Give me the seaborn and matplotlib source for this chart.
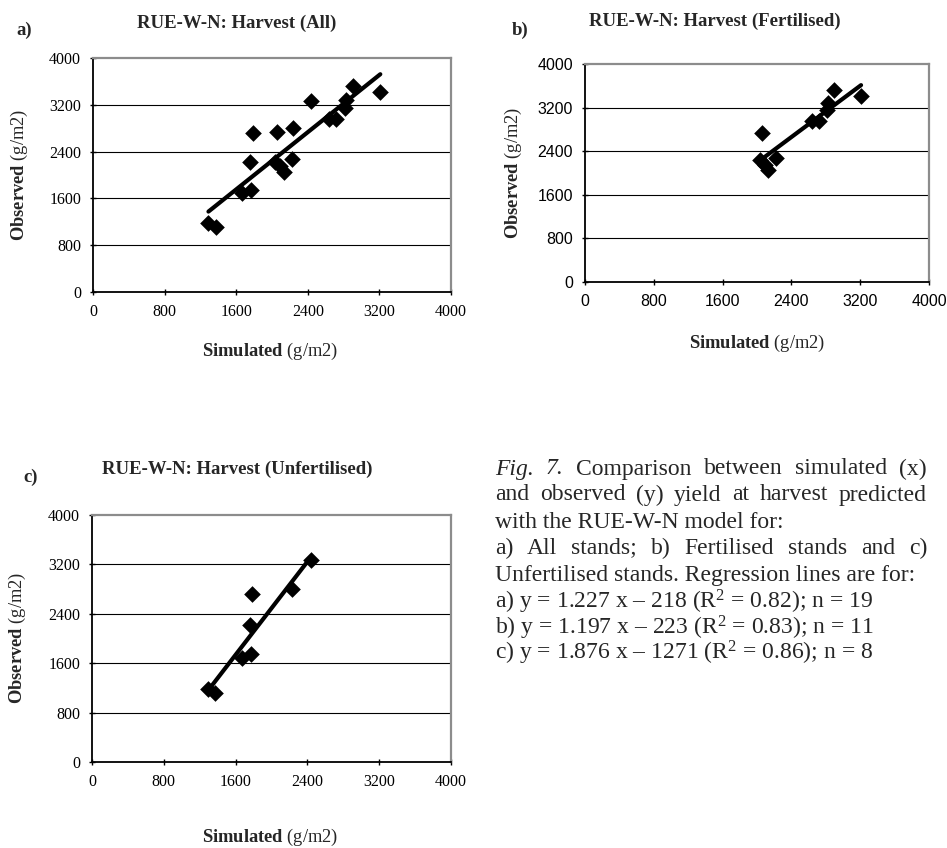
import numpy as np
import pandas as pd
import matplotlib
matplotlib.use('Agg')
import matplotlib.pyplot as plt
import seaborn as sns

# fertilised stands (n = 11)
fert_sim = [2054, 2030, 2090, 2132, 2225, 2640, 2720, 2815, 2825, 2900, 3210]
fert_obs = [2730, 2230, 2150, 2050, 2270, 2950, 2955, 3150, 3290, 3525, 3415]
# unfertilised stands (n = 8)
unf_sim = [1290, 1370, 1670, 1770, 1755, 1785, 2230, 2440]
unf_obs = [1175, 1110, 1685, 1750, 2220, 2725, 2800, 3270]

ticks = [0, 800, 1600, 2400, 3200, 4000]

df_f = pd.DataFrame({'sim': fert_sim, 'obs': fert_obs})
df_u = pd.DataFrame({'sim': unf_sim, 'obs': unf_obs})
df_all = pd.concat([df_f, df_u], ignore_index=True)

sns.set_style('white')
plt.rcParams['font.family'] = ['Liberation Serif', 'DejaVu Serif']
plt.rcParams['mathtext.fontset'] = 'custom'
plt.rcParams['mathtext.rm'] = 'Liberation Serif'
plt.rcParams['mathtext.it'] = 'Liberation Serif:italic'
plt.rcParams['mathtext.bf'] = 'Liberation Serif:bold'

W, H = 947, 848
fig = plt.figure(figsize=(W / 100, H / 100), dpi=100)


def box(l, t, r, b):
    return [l / W, 1 - b / H, (r - l) / W, (b - t) / H]


def panel(rect, data, tick_font, tick_size):
    ax = fig.add_axes(rect)
    sns.regplot(x='sim', y='obs', data=data, ax=ax, ci=None, color='black', marker='D',
                scatter_kws={'s': 72, 'color': 'black', 'alpha': 1, 'linewidths': 0},
                line_kws={'lw': 3, 'color': 'black'})
    ax.set_xlim(0, 4000)
    ax.set_ylim(0, 4000)
    ax.set_xticks(ticks)
    ax.set_yticks(ticks)
    ax.set_xlabel('')
    ax.set_ylabel('')
    for g in ticks[1:-1]:
        ax.axhline(g, color='black', lw=0.8, zorder=0)
    for s in ['left', 'bottom']:
        ax.spines[s].set_color('black')
        ax.spines[s].set_linewidth(1.3)
    for s in ['top', 'right']:
        ax.spines[s].set_color('#8c8c8c')
        ax.spines[s].set_linewidth(1.6)
    ax.tick_params(direction='inout', length=5, width=1, colors='black', pad=6,
                   left=True, bottom=True)
    for lab in ax.get_xticklabels() + ax.get_yticklabels():
        lab.set_fontfamily(tick_font)
        lab.set_fontsize(tick_size)
    return ax


ax_a = panel(box(93, 58, 451, 292), df_all, ['Liberation Serif'], 11.5)
ax_b = panel(box(585, 64, 929, 282), df_f, ['Liberation Sans'], 11.5)
ax_c = panel(box(92, 515, 451, 762), df_u, ['Liberation Serif'], 11.5)


def put(x, y, s, **kw):
    return fig.text(x / W, 1 - y / H, s, **kw)


# titles and panel letters
tkw = dict(fontsize=13.5, ha='center', va='center', fontweight='bold')
put(237, 23, 'RUE-W-N: Harvest (All)', **tkw)
put(715, 21, 'RUE-W-N: Harvest (Fertilised)', **tkw)
put(237, 469, 'RUE-W-N: Harvest (Unfertilised)', **tkw)
put(24, 30, 'a)', **tkw)
put(520, 30, 'b)', **tkw)
put(31, 477, 'c)', **tkw)

lab_kw = dict(fontsize=13.3, ha='center', va='center')
xl = r'$\bf{Simulated}$ (g/m2)'
yl = r'$\bf{Observed}$ (g/m2)'
put(270, 351, xl, **lab_kw)
put(757, 343, xl, **lab_kw)
put(270, 837, xl, **lab_kw)
put(19, 175, yl, rotation=90, **lab_kw)
put(513, 173, yl, rotation=90, **lab_kw)
put(17, 638, yl, rotation=90, **lab_kw)

# caption
cap_x0, cap_x1 = 495, 927
cap_size = 17
renderer = fig.canvas.get_renderer()


def justify(words, y, styles=None):
    styles = styles or ['normal'] * len(words)
    ts = [put(0, y, w, fontsize=cap_size, va='center', ha='left', fontstyle=st)
          for w, st in zip(words, styles)]
    widths = [t.get_window_extent(renderer).width for t in ts]
    gap = (cap_x1 - cap_x0 - sum(widths)) / (len(ts) - 1)
    x = cap_x0
    for t, w in zip(ts, widths):
        t.set_x(x / W)
        x += w + gap


line_y = [469, 495, 522, 548, 575, 602, 628, 653]
w1 = ['Fig.', '7.', 'Comparison', 'between', 'simulated', '(x)']
justify(w1, line_y[0], ['italic', 'italic'] + ['normal'] * 4)
justify('and observed (y) yield at harvest predicted'.split(), line_y[1])
put(cap_x0, line_y[2], 'with the RUE-W-N model for:', fontsize=cap_size, va='center')
justify('a) All stands; b) Fertilised stands and c)'.split(), line_y[3])
put(cap_x0, line_y[4], 'Unfertilised stands. Regression lines are for:', fontsize=cap_size, va='center')
put(cap_x0, line_y[5], 'a) y = 1.227 x \u2013 218 (R$^2$ = 0.82); n = 19', fontsize=cap_size, va='center')
put(cap_x0, line_y[6], 'b) y = 1.197 x \u2013 223 (R$^2$ = 0.83); n = 11', fontsize=cap_size, va='center')
put(cap_x0, line_y[7], 'c) y = 1.876 x \u2013 1271 (R$^2$ = 0.86); n = 8', fontsize=cap_size, va='center')

fig.savefig('out.png', dpi=100)
